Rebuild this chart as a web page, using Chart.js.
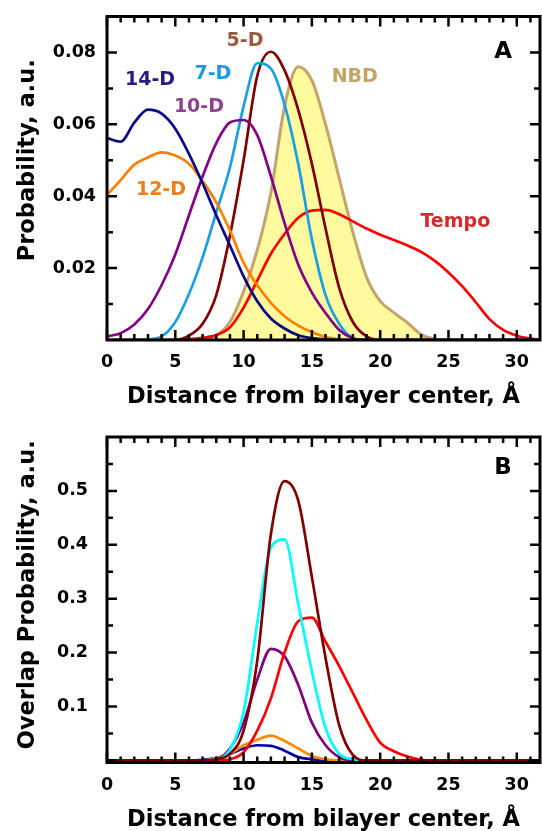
<!DOCTYPE html>
<html>
<head>
<meta charset="utf-8">
<script src="https://cdn.jsdelivr.net/npm/chart.js@4.4.1/dist/chart.umd.min.js"></script>
<style>
html, body { margin: 0; padding: 0; background: #fff; }
#wrap { position: relative; width: 542px; height: 831px; overflow: hidden; }
canvas { position: absolute; left: 0; }
#chartA { top: 0; }
#chartB { top: 416px; }
</style>
</head>
<body>
<div id="wrap">
<canvas id="chartA" width="542" height="416"></canvas>
<canvas id="chartB" width="542" height="415"></canvas>
</div>
<script>
//Data, distance from bilayer center (A)
var distance = [0,1,2,3,4,5,6,7,8,9,10,11,12,13,14,15,16,17,18,19,20,21,22,23,24,25,26,27,28,29,30,31,32];

//Panel A: probability, a.u.
var probD14 = [0.0562,0.0552,0.0605,0.0641,0.0630,0.0588,0.0518,0.0436,0.0347,0.0263,0.0177,0.0108,0.0060,0.0032,0.0013,0.0005,0.0001,0,0,0,0,0,0,0,0,0,0,0,0,0,0,0,0];
var probD12 = [0.0404,0.0445,0.0488,0.0508,0.0522,0.0513,0.0490,0.0442,0.0383,0.0305,0.0215,0.0152,0.0103,0.0066,0.0040,0.0022,0.0008,0.0002,0,0,0,0,0,0,0,0,0,0,0,0,0,0,0];
var probD10 = [0.0010,0.0019,0.0043,0.0086,0.0153,0.0238,0.0347,0.0455,0.0548,0.0605,0.0612,0.0570,0.0455,0.0325,0.0210,0.0132,0.0075,0.0028,0.0005,0,0,0,0,0,0,0,0,0,0,0,0,0,0];
var probD7 = [0,0,0,0.0002,0.0010,0.0050,0.0128,0.0230,0.0355,0.0480,0.0650,0.0770,0.0755,0.0655,0.0490,0.0280,0.0125,0.0045,0.0005,0,0,0,0,0,0,0,0,0,0,0,0,0,0];
var probD5 = [0,0,0,0,0,0,0.0012,0.0045,0.0125,0.0290,0.0500,0.0735,0.0802,0.0750,0.0640,0.0490,0.0310,0.0145,0.0050,0.0010,0,0,0,0,0,0,0,0,0,0,0,0,0];
var probNBD = [0,0,0,0,0,0,0,0,0.0012,0.0050,0.0135,0.0250,0.0410,0.0650,0.0760,0.0722,0.0600,0.0450,0.0300,0.0175,0.0108,0.0076,0.0048,0.0015,0.0003,0,0,0,0,0,0,0,0];
var probTempo = [0,0,0,0,0,0,0.0002,0.0006,0.0014,0.0035,0.0090,0.0165,0.0240,0.0295,0.0340,0.0360,0.0362,0.0350,0.0330,0.0310,0.0293,0.0278,0.0263,0.0245,0.0220,0.0188,0.0150,0.0105,0.0058,0.0028,0.0012,0.0004,0];

//Panel B: overlap probability, a.u.
var ovD5 = [0,0,0,0,0,0,0,0,0.002,0.012,0.055,0.185,0.42,0.518,0.482,0.34,0.19,0.065,0.01,0,0,0,0,0,0,0,0,0,0,0,0,0,0];
var ovD7 = [0,0,0,0,0,0,0,0,0.002,0.02,0.09,0.255,0.395,0.41,0.29,0.165,0.06,0.012,0.002,0,0,0,0,0,0,0,0,0,0,0,0,0,0];
var ovD10 = [0,0,0,0,0,0,0,0,0.002,0.022,0.07,0.15,0.207,0.193,0.14,0.07,0.028,0.006,0,0,0,0,0,0,0,0,0,0,0,0,0,0,0];
var ovTempo = [0,0,0,0,0,0,0,0,0,0.002,0.015,0.055,0.115,0.2,0.258,0.265,0.22,0.175,0.125,0.075,0.033,0.017,0.007,0.001,0,0,0,0,0,0,0,0,0];
var ovD12 = [0,0,0,0,0,0,0,0,0.004,0.012,0.028,0.038,0.046,0.036,0.022,0.008,0.002,0,0,0,0,0,0,0,0,0,0,0,0,0,0,0,0];
var ovD14 = [0,0,0,0,0,0,0,0.001,0.004,0.012,0.022,0.028,0.027,0.018,0.006,0.002,0,0,0,0,0,0,0,0,0,0,0,0,0,0,0,0,0];

//Tick labels
var xTicks = [0, 5, 10, 15, 20, 25, 30];
var yTicksA = [0.02, 0.04, 0.06, 0.08];
var yLabelsA = ['0.02', '0.04', '0.06', '0.08'];
var yMinorA = [0.01, 0.03, 0.05, 0.07];
var yTicksB = [0, 0.1, 0.2, 0.3, 0.4, 0.5];
var yLabelsB = ['', '0.1', '0.2', '0.3', '0.4', '0.5'];
var yMinorB = [0.05, 0.15, 0.25, 0.35, 0.45, 0.55];

var FONT = '"DejaVu Sans", "Liberation Sans", sans-serif';

function pts(ys) {
	return ys.map(function(y, i) { return {x: distance[i], y: y}; });
}

function line(label, ys, color, order) {
	return {
		label: label,
		data: pts(ys),
		borderColor: color,
		backgroundColor: color,
		borderWidth: 2.7,
		pointRadius: 0,
		cubicInterpolationMode: 'monotone',
		fill: false,
		order: order
	};
}

//Frame, inward ticks, labels and titles, placed with the chart's scales
var frameTicks = {
	id: 'frameTicks',
	afterDatasetsDraw: function(chart, args, o) {
		var ctx = chart.ctx, a = chart.chartArea;
		var xs = chart.scales.x, ys = chart.scales.y;
		ctx.save();
		ctx.strokeStyle = '#000';
		ctx.lineWidth = 2.5;
		ctx.beginPath();
		for (var v = 0; v <= xs.max; v++) {
			var len = xTicks.indexOf(v) >= 0 ? 10 : 6;
			var px = xs.getPixelForValue(v);
			ctx.moveTo(px, a.bottom); ctx.lineTo(px, a.bottom - len);
			ctx.moveTo(px, a.top); ctx.lineTo(px, a.top + len);
		}
		o.yMajor.forEach(function(t) {
			var py = ys.getPixelForValue(t);
			ctx.moveTo(a.left, py); ctx.lineTo(a.left + 10, py);
			ctx.moveTo(a.right, py); ctx.lineTo(a.right - 10, py);
		});
		o.yMinor.forEach(function(t) {
			var py = ys.getPixelForValue(t);
			ctx.moveTo(a.left, py); ctx.lineTo(a.left + 6, py);
			ctx.moveTo(a.right, py); ctx.lineTo(a.right - 6, py);
		});
		ctx.stroke();
		ctx.lineWidth = 3;
		ctx.strokeRect(a.left, a.top, a.right - a.left, a.bottom - a.top);

		ctx.fillStyle = '#000';
		ctx.font = 'bold 17.5px ' + FONT;
		ctx.textAlign = 'center';
		ctx.textBaseline = 'alphabetic';
		xTicks.forEach(function(t) {
			ctx.fillText(String(t), xs.getPixelForValue(t), a.bottom + 27);
		});
		ctx.textAlign = 'right';
		ctx.textBaseline = 'middle';
		o.yMajor.forEach(function(t, i) {
			ctx.fillText(o.yLabels[i], a.left - o.yLabelGap, ys.getPixelForValue(t));
		});

		ctx.font = 'bold 22.5px ' + FONT;
		ctx.textAlign = 'center';
		ctx.textBaseline = 'alphabetic';
		ctx.fillText('Distance from bilayer center, \u00C5', (a.left + a.right) / 2, a.bottom + 63);
		ctx.save();
		ctx.translate(34, (a.top + a.bottom) / 2 - o.yTitleShift);
		ctx.rotate(-Math.PI / 2);
		ctx.fillText(o.yTitle, 0, 0);
		ctx.restore();

		ctx.textBaseline = 'middle';
		o.notes.forEach(function(n) {
			ctx.font = 'bold ' + n.size + 'px ' + FONT;
			ctx.fillStyle = n.color;
			ctx.fillText(n.text, xs.getPixelForValue(n.x), ys.getPixelForValue(n.y));
		});
		ctx.restore();
	}
};

function axes(ymin, ymax) {
	return {
		x: {type: 'linear', min: 0, max: 31.7, display: false},
		y: {type: 'linear', min: ymin, max: ymax, display: false}
	};
}

var chartA = new Chart(document.getElementById('chartA'), {
	type: 'line',
	data: {
		datasets: [
			line('14-D', probD14, '#0a0a82', 1),
			line('12-D', probD12, '#ff8000', 2),
			line('10-D', probD10, '#840084', 3),
			line('7-D', probD7, '#1a9ee6', 4),
			line('5-D', probD5, '#800000', 5),
			line('Tempo', probTempo, '#ff0000', 6),
			{
				label: 'NBD',
				data: pts(probNBD),
				borderColor: '#c4a46c',
				backgroundColor: '#fffa9e',
				borderWidth: 3,
				pointRadius: 0,
				cubicInterpolationMode: 'monotone',
				fill: 'origin',
				order: 10
			}
		]
	},
	options: {
		responsive: false,
		animation: false,
		devicePixelRatio: 1,
		layout: {padding: {left: 107, right: 2, top: 16.5, bottom: 76}},
		scales: axes(0, 0.09),
		plugins: {
			legend: {display: false},
			tooltip: {enabled: false},
			frameTicks: {
				yMajor: yTicksA,
				yLabels: yLabelsA,
				yMinor: yMinorA,
				yLabelGap: 11,
				yTitle: 'Probability, a.u.',
				yTitleShift: 18,
				notes: [
					{text: '14-D', x: 3.15, y: 0.0723, color: '#261e7e', size: 19},
					{text: '7-D', x: 7.75, y: 0.0740, color: '#1a9ae0', size: 19},
					{text: '5-D', x: 10.1, y: 0.0832, color: '#9c5a3c', size: 19},
					{text: '10-D', x: 6.73, y: 0.0648, color: '#8e448c', size: 19},
					{text: '12-D', x: 3.95, y: 0.0417, color: '#e8801e', size: 19},
					{text: 'NBD', x: 18.14, y: 0.0732, color: '#c4a464', size: 19},
					{text: 'Tempo', x: 25.5, y: 0.0328, color: '#d8282a', size: 19},
					{text: 'A', x: 29.0, y: 0.0801, color: '#000', size: 23}
				]
			}
		}
	},
	plugins: [frameTicks]
});

var chartB = new Chart(document.getElementById('chartB'), {
	type: 'line',
	data: {
		datasets: [
			line('14-D', ovD14, '#0000a8', 6),
			line('12-D', ovD12, '#ff8c00', 5),
			line('10-D', ovD10, '#800080', 4),
			line('Tempo', ovTempo, '#ff0000', 3),
			line('7-D', ovD7, '#00ffff', 2),
			line('5-D', ovD5, '#800000', 1)
		]
	},
	options: {
		responsive: false,
		animation: false,
		devicePixelRatio: 1,
		layout: {padding: {left: 107, right: 2, top: 21, bottom: 68.5}},
		scales: axes(-0.004, 0.6),
		plugins: {
			legend: {display: false},
			tooltip: {enabled: false},
			frameTicks: {
				yMajor: yTicksB,
				yLabels: yLabelsB,
				yMinor: yMinorB,
				yLabelGap: 19,
				yTitle: 'Overlap Probability, a.u.',
				yTitleShift: 5,
				notes: [
					{text: 'B', x: 29.0, y: 0.542, color: '#000', size: 23}
				]
			}
		}
	},
	plugins: [frameTicks]
});
</script>
</body>
</html>
